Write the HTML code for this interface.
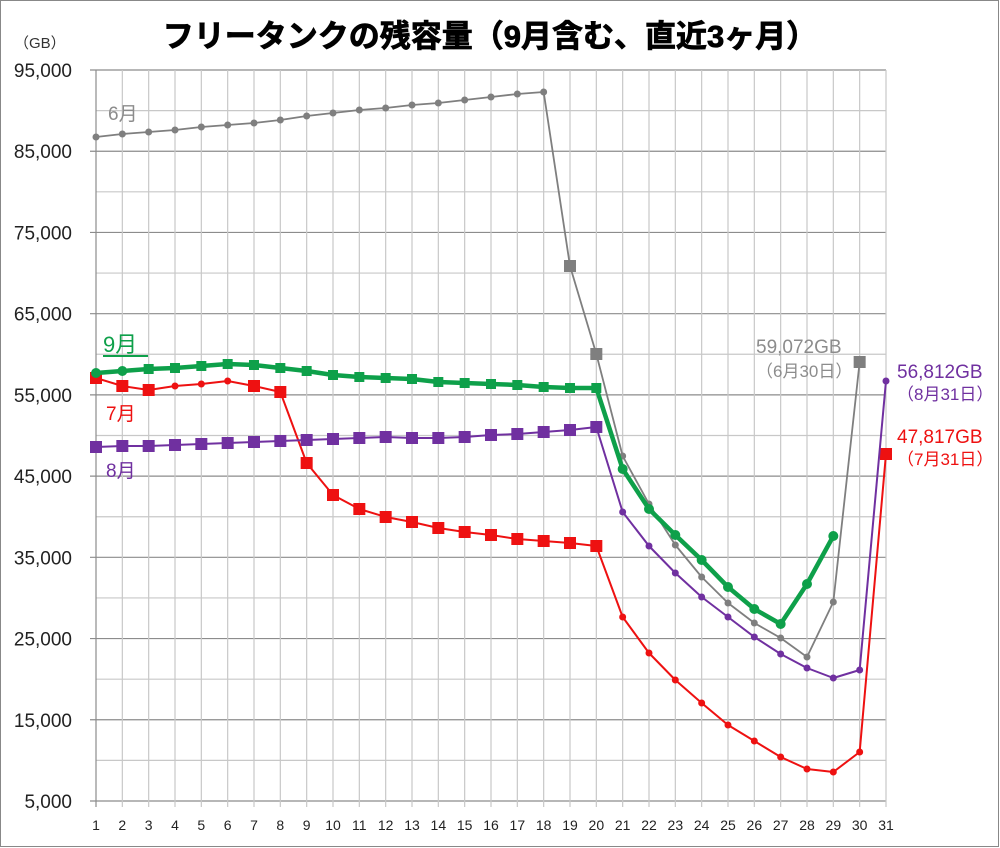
<!DOCTYPE html>
<html><head><meta charset="utf-8"><style>
html,body{margin:0;padding:0;background:#fff;}
svg{display:block;font-family:"Liberation Sans","Noto Sans CJK JP",sans-serif;}
</style></head><body>
<svg id="c" width="1000" height="848" xmlns="http://www.w3.org/2000/svg"></svg>
<script>
const s=document.getElementById('c');let h='';
h+='<rect x="0.5" y="0.5" width="998" height="846" fill="#fff" stroke="#888"/>';
const X=d=>96+(d-1)*26.333;
for(let i=0;i<=18;i++){const y=70+i*731/18;h+=`<line x1="${i%2==0?90:96}" x2="886" y1="${y}" y2="${y}" stroke="${i%2==0?'#8c8c8c':'#c8c8c8'}" stroke-width="1.2"/>`;}
for(let d=2;d<=31;d++){h+=`<line x1="${X(d)}" x2="${X(d)}" y1="70" y2="807" stroke="#c8c8c8" stroke-width="1.2"/>`;}
h+='<line x1="96" x2="96" y1="70" y2="807" stroke="#8c8c8c" stroke-width="1.2"/>';
for(let i=0;i<=9;i++){const y=70+i*731/9;const v=(95-i*10)+',000';h+=`<text x="72" y="${y+7}" font-size="19" fill="#222" text-anchor="end">${v}</text>`;}
for(let d=1;d<=31;d++){h+=`<text x="${X(d)}" y="830" font-size="14" fill="#222" text-anchor="middle">${d}</text>`;}
h+='<text x="14" y="48" font-size="15" fill="#333">（GB）</text>';
h+='<text x="490" y="47" font-size="31" font-weight="bold" fill="#000" stroke="#000" stroke-width="0.8" text-anchor="middle">フリータンクの残容量（9月含む、直近3ヶ月）</text>';
function series(ys,col,w,mk){let pts=ys.map((y,i)=>X(i+1)+','+y).join(' ');h+=`<polyline points="${pts}" fill="none" stroke="${col}" stroke-width="${w}" stroke-linejoin="round"/>`;
ys.forEach((y,i)=>{const m=mk(i+1);if(m=='s'){h+=`<rect x="${X(i+1)-6}" y="${y-6}" width="12" height="12" fill="${col}"/>`;}else if(m=='S'){h+=`<rect x="${X(i+1)-5}" y="${y-5}" width="10" height="10" fill="${col}"/>`;}else if(m=='C'){h+=`<circle cx="${X(i+1)}" cy="${y}" r="5" fill="${col}"/>`;}else{h+=`<circle cx="${X(i+1)}" cy="${y}" r="3.5" fill="${col}"/>`;}});}
series([137,134,132,130,127,125,123,120,116,113,110,108,105,103,100,97,94,92,266,354,456,504,545,577,603,623,638,657,602,362],'#7f7f7f',1.8,d=>(d==19||d==20||d==30)?'s':'c');
series([378,386,390,386,384,381,386,392,463,495,509,517,522,528,532,535,539,541,543,546,617,653,680,703,725,741,757,769,772,752,454],'#ee1111',2,d=>([4,5,6].includes(d)||(d>=21&&d<=30))?'c':'s');
series([447,446,446,445,444,443,442,441,440,439,438,437,438,438,437,435,434,432,430,427,512,546,573,597,617,637,654,668,678,670,381],'#7030a0',2,d=>d<=20?'s':'c');
series([373,371,369,368,366,364,365,368,371,375,377,378,379,382,383,384,385,387,388,388,469,509,535,560,587,609,624,584,536],'#0ea04a',4.5,d=>(d>=3&&d<=20)?'S':'C');
h+='<text x="108" y="120" font-size="19" fill="#8c8c8c">6月</text>';
h+='<text x="103" y="352" font-size="22" fill="#0ea04a">9月</text><line x1="103" x2="148" y1="356" y2="356" stroke="#0ea04a" stroke-width="2"/>';
h+='<text x="106" y="420" font-size="19" fill="#ee1111">7月</text>';
h+='<text x="106" y="477" font-size="19" fill="#7030a0">8月</text>';
h+='<text x="756" y="353" font-size="19" fill="#8c8c8c">59,072GB</text><text x="756" y="377" font-size="17" fill="#8c8c8c">（6月30日）</text>';
h+='<text x="897" y="378" font-size="19" fill="#7030a0">56,812GB</text><text x="897" y="400" font-size="17" fill="#7030a0">（8月31日）</text>';
h+='<text x="897" y="443" font-size="19" fill="#ee1111">47,817GB</text><text x="897" y="465" font-size="17" fill="#ee1111">（7月31日）</text>';
s.innerHTML=h;
</script>
</body></html>
